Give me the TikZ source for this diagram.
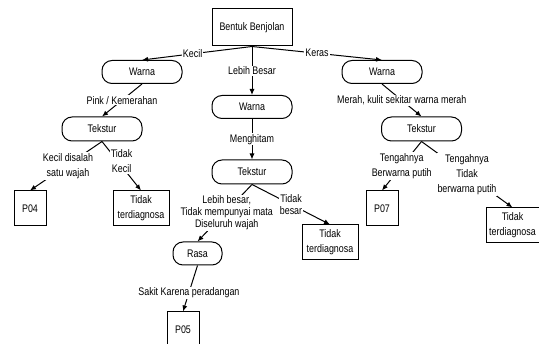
\documentclass[tikz,border=0pt]{standalone}
\usepackage{fontspec}
\setmainfont[FakeStretch=0.81]{Liberation Sans}
\usepackage{tikz}
\usetikzlibrary{arrows.meta,positioning}

\begin{document}
\begin{tikzpicture}[x=1pt, y=-1pt,
  every node/.style={font=\fontsize{11}{15}\selectfont, align=center},
  kotak/.style={draw, rectangle, line width=1pt, minimum height=35pt, inner sep=0pt},
  bulat/.style={draw, rounded corners=10pt, line width=1pt, minimum width=80pt, minimum height=23pt, inner sep=0pt},
  ket/.style={fill=white, inner sep=1pt},
  rapat/.style={font=\fontsize{11}{12}\selectfont},
  panah/.style={-{Latex[length=6pt,width=5pt]}, line width=1pt}]
  \useasboundingbox (0,0) rectangle (539,344);

  \node[draw, rectangle, line width=1pt, minimum width=80pt, minimum height=37pt] (root) at (252,27.5) {Bentuk Benjolan};
  \node[bulat] (warna1) at (142,72) {Warna};
  \node[bulat] (warna2) at (252,107) {Warna};
  \node[bulat] (warna3) at (382,72) {Warna};
  \node[bulat, minimum height=24pt] (tekstur1) at (102,129) {Tekstur};
  \node[bulat, minimum height=24pt] (tekstur2) at (252,172) {Tekstur};
  \node[bulat, minimum height=24pt] (tekstur3) at (421.5,129) {Tekstur};
  \node[bulat, minimum width=49pt] (rasa) at (197.5,253.5) {Rasa};

  \node[kotak, minimum width=32pt] (p04) at (30,208.5) {P04};
  \node[kotak, minimum width=56pt] (tdk1) at (141,208.5) {Tidak\\terdiagnosa};
  \node[kotak, minimum width=32pt] (p05) at (183,329.5) {P05};
  \node[kotak, minimum width=56pt] (tdk2) at (330,242.5) {Tidak\\terdiagnosa};
  \node[kotak, minimum width=32pt] (p07) at (382,208.5) {P07};
  \node[kotak, minimum width=53pt] (tdk3) at (512.5,225.5) {Tidak\\terdiagnosa};

  \draw[panah] (root.south) -- node[ket, pos=0.54] {Kecil} (warna1.north);
  \draw[panah] (root.south) -- node[ket] {Lebih Besar} (warna2.north);
  \draw[panah] (root.south) -- node[ket] {Keras} (warna3.north);
  \draw[panah] (warna1.south) -- node[ket] {Pink / Kemerahan} (tekstur1.north);
  \draw[panah] (warna2.south) -- node[ket] {Menghitam} (tekstur2.north);
  \draw[panah] (warna3.south) -- node[ket] {Merah, kulit sekitar warna merah} (tekstur3.north);
  \draw[panah] (tekstur1.south) -- node[ket, xshift=2pt] {Kecil disalah\\satu wajah} (p04.north);
  \draw[panah] (tekstur1.south) -- node[ket, pos=0.4, xshift=4pt] {Tidak\\Kecil} (tdk1.north);
  \draw[panah] (tekstur2.south) -- node[ket, rapat, xshift=2pt] {Lebih besar,\\Tidak mempunyai mata\\Diseluruh wajah} (rasa.north);
  \draw[panah] (tekstur2.south) -- node[ket, rapat] {Tidak\\besar} (tdk2.north);
  \draw[panah] (rasa.south) -- node[ket, pos=0.59] {Sakit Karena peradangan} (p05.north);
  \draw[panah] (tekstur3.south) -- node[ket] {Tengahnya\\Berwarna putih} (p07.north);
  \draw[panah] (tekstur3.south) -- node[ket] {Tengahnya\\Tidak\\berwarna putih} (tdk3.north);
\end{tikzpicture}
\end{document}
